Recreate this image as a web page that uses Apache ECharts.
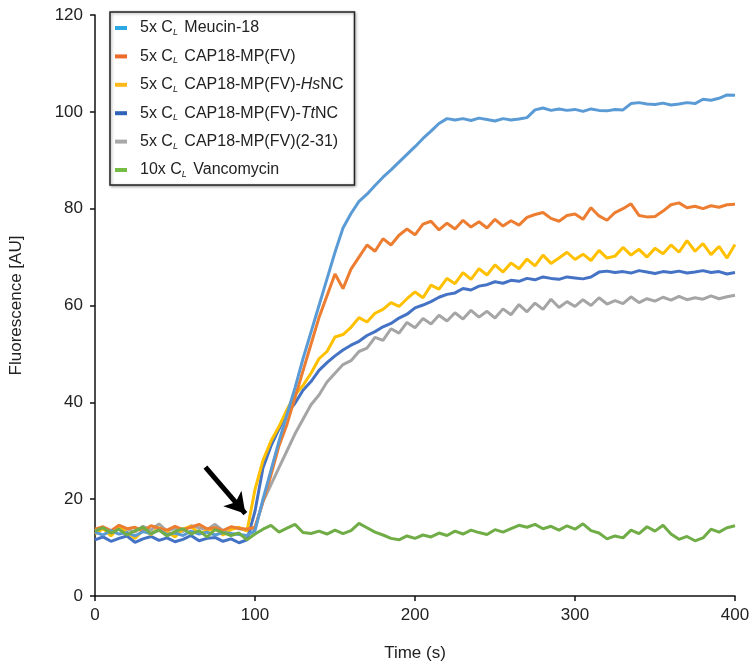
<!DOCTYPE html>
<html>
<head>
<meta charset="utf-8">
<script src="https://cdn.jsdelivr.net/npm/echarts@6/dist/echarts.min.js"></script>
<style>
html,body{margin:0;padding:0;background:#fff;}
#chart{width:752px;height:671px;}
</style>
</head>
<body>
<div id="chart"></div>
<script>
// Time points (s), every 5 s from 0 to 400
const times = [0,5,10,15,20,25,30,35,40,45,50,55,60,65,70,75,80,85,90,95,
  100,105,110,115,120,125,130,135,140,145,150,155,160,165,170,175,180,185,190,195,
  200,205,210,215,220,225,230,235,240,245,250,255,260,265,270,275,280,285,290,295,
  300,305,310,315,320,325,330,335,340,345,350,355,360,365,370,375,380,385,390,395,400];

const meucin = [13.2,12.6,13.5,12.8,13.1,12.4,13.3,12.9,13.6,12.7,13.0,12.5,13.4,12.8,13.2,12.6,13.1,12.9,12.7,12.5,
  13.5,20,26,32,37.5,43,49,54.5,60,65.5,71,76,79,81.5,83,84.8,86.5,88,89.6,91.2,
  92.8,94.5,96,97.6,98.6,98.3,98.6,98.2,98.7,98.4,98.1,98.6,98.3,98.5,98.8,100.4,100.8,100.3,100.6,100.3,
  100.5,100.1,100.6,100.3,100.2,100.5,100.4,101.7,101.9,101.6,101.5,101.8,101.4,101.6,101.9,101.7,102.6,102.4,102.8,103.5,103.4];

const cap18 = [13.8,14.3,13.5,14.6,13.9,14.2,13.4,14.5,14.0,13.6,14.4,13.7,14.2,14.8,13.9,14.1,13.5,14.3,14.0,13.8,
  14.2,19.5,25,31,35.5,41,46.5,52,57.5,62,66.5,63.5,67.5,70,72.5,71.2,73.8,72.5,74.5,75.8,
  74.6,76.8,77.4,75.6,77.0,75.8,77.6,76.2,77.3,76.0,77.8,76.4,77.5,76.6,78.2,78.8,79.2,78.0,77.4,78.6,
  78.9,77.8,80.2,78.5,77.6,79.2,80.0,81.0,78.6,78.3,78.4,79.5,80.8,81.2,80.2,80.5,80.0,80.6,80.3,80.8,80.9];

const hsnc = [12.8,13.9,12.4,14.2,13.1,11.9,13.6,12.7,14.1,13.3,12.2,13.8,14.4,12.9,13.5,14.0,12.6,13.7,14.2,13.4,
  22,28,32,35,38.5,41.5,43.5,46,49,50.5,53.5,54,55.5,57.5,56.6,58.4,59.2,60.6,59.8,61.4,
  62.8,61.6,64.2,63.4,65.6,64.5,66.8,65.4,67.6,66.3,68.4,66.9,68.8,67.6,69.6,68.2,70.4,68.7,69.8,71.0,
  69.5,70.6,69.3,71.4,69.8,70.2,72.0,70.4,71.6,70.0,71.8,70.7,72.5,71.0,73.4,71.2,72.8,70.5,72.2,69.8,72.6];

const ttnc = [11.6,12.2,11.3,11.9,12.4,11.1,11.8,12.3,11.5,12.0,11.2,11.7,12.5,11.4,11.9,12.1,11.3,11.8,11.0,11.6,
  17.5,26.5,31,34.5,37.8,39.8,42.5,44.3,46.6,48.2,49.6,50.8,51.8,52.6,53.8,54.6,55.6,56.3,57.4,58.2,
  59.5,60.1,60.8,61.7,62.3,62.6,63.5,63.2,64.0,64.3,64.9,64.6,65.2,65.0,65.6,65.3,65.9,65.6,65.4,65.9,
  65.7,65.5,65.9,66.9,67.1,66.8,67.0,66.7,67.2,66.9,66.6,67.0,66.8,67.1,66.7,66.9,67.2,66.8,67.0,66.5,66.8];

const cap18short = [13.5,14.2,13.1,14.6,13.8,13.2,14.4,13.6,14.9,13.4,14.0,13.3,14.5,14.1,13.7,14.8,13.5,14.2,13.9,13.6,
  14.0,19.5,23,26.5,30,33.5,36.5,39.5,41.5,44.2,46.0,47.8,48.6,50.5,51.2,53.4,52.8,55.2,54.3,56.5,
  55.4,57.3,56.2,58.0,56.8,58.5,57.2,59.0,57.6,58.8,57.4,59.3,58.1,60.2,58.7,60.5,59.2,61.3,59.6,60.8,
  59.8,61.2,60.0,61.6,60.3,61.0,60.4,61.8,60.6,61.4,60.9,61.7,61.1,61.9,61.2,61.6,61.3,62.0,61.4,61.8,62.1];

const vanco = [13.4,14.1,13.0,13.8,12.6,13.5,14.2,12.9,13.6,12.4,13.3,13.9,12.8,13.5,12.2,13.7,13.1,12.5,13.0,11.6,
  12.8,13.8,14.6,13.2,14.0,14.8,13.1,12.9,13.4,12.8,13.6,12.9,13.5,15.0,14.1,13.2,12.6,11.9,11.6,12.4,
  11.9,12.6,12.2,13.0,12.5,13.4,12.8,13.6,13.1,12.7,13.7,13.2,13.9,14.6,14.2,14.8,13.9,14.4,13.6,14.5,
  13.8,14.9,13.5,13.0,11.8,12.4,12.0,13.6,12.9,14.3,13.4,14.6,12.8,11.7,12.3,11.4,12.0,13.8,13.2,14.1,14.5];

const seriesNames = ['Meucin','CAP18','HsNC','TtNC','CAP18short','Vanco'];
const legendLabels = [
  '5x C{sub|L} Meucin-18',
  '5x C{sub|L} CAP18-MP(FV)',
  '5x C{sub|L} CAP18-MP(FV)-{it|Hs}NC',
  '5x C{sub|L} CAP18-MP(FV)-{it|Tt}NC',
  '5x C{sub|L} CAP18-MP(FV)(2-31)',
  '10x C{sub|L} Vancomycin'
];
const seriesData = [meucin, cap18, hsnc, ttnc, cap18short, vanco];
const lineColors = ['#5B9BD5','#ED7D31','#FFC000','#4472C4','#A5A5A5','#70AD47'];
const iconColors = ['#2EA8E4','#EE6A2A','#FFB81C','#2F62B8','#A8A8A8','#76BD45'];

const xTicks = [0,100,200,300,400];
const yTicks = [0,20,40,60,80,100,120];
const arrowStart = [69, 26.6];
const arrowEnd = [94, 17.0];

const chart = echarts.init(document.getElementById('chart'), null, {renderer:'canvas'});
const font = 'Liberation Sans, Arial, sans-serif';

const series = seriesNames.map((n,i)=>({
  name: n,
  type: 'line',
  data: times.map((t,k)=>[t, seriesData[i][k]]),
  showSymbol: false,
  symbol: 'none',
  lineStyle: {color: lineColors[i], width: 3},
  itemStyle: {color: lineColors[i]},
  z: i===5 ? 3 : 2 + (5-i)*0.01,
  animation: false
}));
series[5].markLine = {
  silent: true,
  animation: false,
  symbol: ['none','arrow'],
  symbolSize: [18, 20],
  lineStyle: {color:'#000', width: 5, type:'solid'},
  label: {show:false},
  data: [[{coord: arrowStart}, {coord: arrowEnd}]]
};

const labelMap = {};
seriesNames.forEach((n,i)=>labelMap[n]='{g| }' + legendLabels[i]);

chart.setOption({
  animation: false,
  backgroundColor: '#fff',
  grid: {left: 95, right: 17, top: 15, bottom: 75, containLabel: false, outerBoundsMode: 'none'},
  legend: {
    orient: 'vertical',
    left: 110, top: 12,
    padding: [7, 11, 6, 5],
    itemGap: 10.4,
    itemWidth: 12, itemHeight: 4,
    icon: 'rect',
    borderColor: '#222', borderWidth: 1.5, borderRadius: 0,
    backgroundColor: '#fff',
    shadowColor: 'rgba(0,0,0,0.35)', shadowBlur: 3, shadowOffsetX: 1, shadowOffsetY: 1,
    data: seriesNames.map((n,i)=>({name:n, itemStyle:{color: iconColors[i]}})),
    formatter: n => labelMap[n],
    textStyle: {
      fontFamily: font, fontSize: 16, color: '#222', lineHeight: 18,
      rich: {
        g: {width: 8, fontSize: 16, lineHeight: 18},
        sub: {fontFamily: font, fontSize: 9, fontStyle: 'italic', color:'#222', lineHeight: 18, verticalAlign:'bottom', padding:[8,2,0,0]},
        it: {fontFamily: font, fontSize: 16, fontStyle: 'italic', color:'#222', lineHeight: 18}
      }
    }
  },
  xAxis: {
    type: 'value', min: 0, max: 400, interval: 100,
    name: 'Time (s)', nameLocation: 'middle', nameGap: 49,
    nameTextStyle: {fontFamily: font, fontSize: 17, color: '#222'},
    axisLine: {show: true, lineStyle: {color: '#111', width: 1.5}},
    axisTick: {show: true, length: 5, lineStyle: {color: '#111', width: 1.5}},
    axisLabel: {fontFamily: font, fontSize: 17, color: '#222', margin: 11,
      formatter: v => xTicks.includes(v) ? String(v) : ''},
    splitLine: {show: false}
  },
  yAxis: {
    type: 'value', min: 0, max: 120, interval: 20,
    name: 'Fluorescence [AU]', nameLocation: 'middle', nameGap: 70, nameRotate: 90,
    nameTextStyle: {fontFamily: font, fontSize: 17, color: '#222'},
    axisLine: {show: true, lineStyle: {color: '#111', width: 1.5}},
    axisTick: {show: true, length: 5, lineStyle: {color: '#111', width: 1.5}},
    axisLabel: {fontFamily: font, fontSize: 17, color: '#222', margin: 12,
      formatter: v => yTicks.includes(v) ? String(v) : ''},
    splitLine: {show: false}
  },
  series: series
});
</script>
</body>
</html>
